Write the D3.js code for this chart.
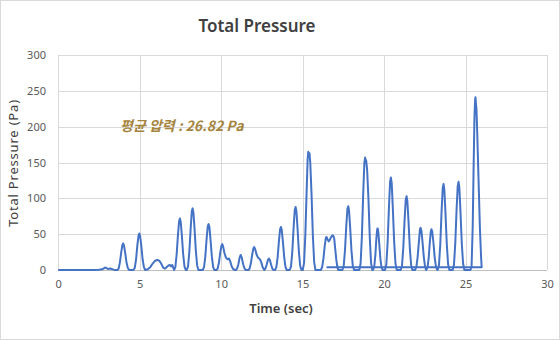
<!DOCTYPE html>
<html><head><meta charset="utf-8">
<script src="https://cdn.jsdelivr.net/npm/d3@7"></script>
<style>html,body{margin:0;padding:0;background:#fff}svg{display:block}</style>
</head><body>
<svg id="c" width="560" height="340"></svg>
<script>
const titleText = "Total Pressure";
const xTitle = "Time (sec)";
const yTitle = "Total Pressure (Pa)";
const note = "평균 압력 : 26.82 Pa";
const xTicks = [0, 5, 10, 15, 20, 25, 30];
const yTicks = [0, 50, 100, 150, 200, 250, 300];
const times = [
0,2.2,2.5,2.7,2.9,3.05,3.2,3.4,3.55,
3.63,3.71,3.79,3.87,3.94,3.99,4.04,4.11,4.19,4.27,4.35,
4.62,4.70,4.78,4.86,4.93,4.98,5.03,5.10,5.18,5.26,5.34,
5.5,5.65,5.8,5.95,6.08,6.2,6.32,6.45,6.55,6.65,6.75,6.85,6.92,7.0,7.05,
7.11,7.19,7.27,7.35,7.42,7.47,7.52,7.59,7.67,7.75,7.83,
7.89,7.97,8.05,8.13,8.20,8.25,8.30,8.37,8.45,8.53,8.61,
8.87,8.95,9.03,9.11,9.18,9.23,9.28,9.35,9.43,9.51,9.59,
9.71,9.79,9.87,9.95,10.02,10.07,10.12,10.2,10.3,10.4,10.48,10.56,10.65,10.75,10.85,
10.9,10.98,11.06,11.13,11.2,11.27,11.35,11.44,11.52,
11.67,11.75,11.83,11.91,11.98,12.03,12.09,12.17,12.27,12.38,12.46,12.55,12.65,
12.72,12.8,12.87,12.93,12.99,13.06,13.14,13.22,
13.31,13.39,13.47,13.55,13.62,13.67,13.72,13.79,13.87,13.95,14.03,
14.21,14.29,14.37,14.45,14.52,14.57,14.62,14.69,14.77,14.85,14.93,
15.01,15.09,15.17,15.25,15.31,15.35,15.39,15.42,15.47,15.55,15.63,15.71,15.79,
16.12,16.2,16.28,16.36,16.43,16.47,16.53,16.6,16.67,16.75,16.82,16.88,16.94,17.0,17.07,17.14,17.2,
17.44,17.52,17.6,17.68,17.75,17.8,17.85,17.92,18.0,18.08,18.16,
18.48,18.56,18.64,18.72,18.79,18.84,18.87,18.9,18.96,19.04,19.12,19.2,19.28,
19.32,19.4,19.47,19.53,19.58,19.61,19.65,19.71,19.78,19.85,19.92,
20.06,20.14,20.22,20.3,20.37,20.42,20.47,20.54,20.62,20.7,20.78,
21.02,21.1,21.18,21.26,21.33,21.38,21.43,21.5,21.58,21.66,21.74,
21.9,21.98,22.06,22.14,22.2,22.24,22.29,22.36,22.44,22.52,22.58,
22.6,22.67,22.74,22.81,22.87,22.91,22.96,23.03,23.11,23.19,23.27,
23.29,23.37,23.45,23.53,23.6,23.65,23.7,23.77,23.85,23.93,24.01,
24.21,24.29,24.37,24.45,24.52,24.57,24.62,24.69,24.77,24.85,24.93,
25.3,25.37,25.44,25.5,25.55,25.59,25.61,25.64,25.67,25.72,25.8,25.88,25.95,25.99,
16.47
];
const pressure = [
0,0,0.5,1,3.5,1.5,2,0.5,0,
0,2,11,25,35,37,34,24,11,3,0,
0,3,15,35,48,51,47,34,15,4,0,
1,4,9,13,14,13,9,3,2,4,6,7,5,7,4,
0,4,22,49,68,72,67,48,22,5,0,
0,5,26,58,82,86,80,57,26,6,0,
0,4,19,44,61,64,60,42,19,4,0,
0,2,11,25,34,36,33,24,17,15,16,12,5,1,0,
0,2,8,17,21,17,8,2,0,
0,2,10,22,30,32,29,22,17,15,11,4,0,
2,8,14,16,14,8,2,0,
0,4,18,41,57,60,56,40,18,4,0,
0,5,26,60,84,88,82,58,26,6,0,
0,10,50,112,155,165,160,163,150,105,48,11,0,
0,4,16,34,45,46,43,40,42,46,48,48,44,30,14,3,0,
0,5,27,61,85,89,83,59,27,6,0,
0,9,47,107,149,157,150,153,140,100,47,10,0,
0,5,22,45,57,58,52,35,14,3,0,
0,8,39,88,123,129,121,85,39,9,0,
0,6,31,70,98,103,96,68,31,7,0,
0,4,18,40,56,59,55,39,18,4,0,
0,4,17,39,54,57,53,38,17,4,0,
0,7,36,82,114,120,112,79,36,8,0,
0,7,37,84,117,123,115,81,37,9,0,
0,5,60,150,215,238,241,232,225,190,125,60,20,4,
4
];

const svg = d3.select("#c");
const W = 560, H = 340;
const m = {l: 58.2, r: 547, t: 55, b: 270};
const x = d3.scaleLinear().domain([0, 30]).range([m.l, m.r]);
const y = d3.scaleLinear().domain([0, 300]).range([m.b, m.t]);
const font = "'Noto Sans','Noto Sans CJK KR',sans-serif";

svg.append("rect").attr("x", 0.5).attr("y", 0.5).attr("width", W - 1).attr("height", H - 1)
  .attr("fill", "#fff").attr("stroke", "#d9d9d9");

// gridlines
svg.append("g").selectAll("line").data(yTicks.slice(1)).join("line")
  .attr("x1", m.l).attr("x2", m.r).attr("y1", d => Math.round(y(d)) + 0.5).attr("y2", d => Math.round(y(d)) + 0.5)
  .attr("stroke", "#d9d9d9");
svg.append("g").selectAll("line").data(xTicks).join("line")
  .attr("y1", m.t).attr("y2", m.b).attr("x1", d => Math.round(x(d)) + 0.5).attr("x2", d => Math.round(x(d)) + 0.5)
  .attr("stroke", "#d9d9d9");
svg.append("line").attr("x1", m.l).attr("x2", m.r).attr("y1", Math.round(y(0)) + 0.5).attr("y2", Math.round(y(0)) + 0.5)
  .attr("stroke", "#bfbfbf");

// axes labels
const yAxis = d3.axisLeft(y).tickValues(yTicks).tickSize(0).tickPadding(0);
const gy = svg.append("g").attr("transform", `translate(46,0)`).call(yAxis);
gy.select(".domain").remove();
gy.selectAll("text").attr("font-family", font).attr("font-size", 11).attr("fill", "#595959");
const xAxis = d3.axisBottom(x).tickValues(xTicks).tickSize(0).tickPadding(0);
const gx = svg.append("g").attr("transform", `translate(0,280)`).call(xAxis);
gx.select(".domain").remove();
gx.selectAll("text").attr("font-family", font).attr("font-size", 11).attr("fill", "#595959");

// line
const pts = times.map((t, i) => [t, pressure[i]]);
svg.append("path").datum(pts)
  .attr("d", d3.line().x(d => x(d[0])).y(d => y(d[1])))
  .attr("fill", "none").attr("stroke", "#4472c4").attr("stroke-width", 2).attr("stroke-linejoin", "round");

// titles
svg.append("text").attr("x", 257).attr("y", 32).attr("text-anchor", "middle")
  .attr("font-family", font).attr("font-size", 17).attr("font-weight", 600).attr("fill", "#404040").text(titleText);
svg.append("text").attr("x", 281).attr("y", 313).attr("text-anchor", "middle")
  .attr("font-family", font).attr("font-size", 13).attr("font-weight", 600).attr("fill", "#404040").text(xTitle);
svg.append("text").attr("transform", "translate(18,163) rotate(-90)").attr("text-anchor", "middle")
  .attr("font-family", font).attr("font-size", 13).attr("letter-spacing", 0.8).attr("fill", "#404040").text(yTitle);
svg.append("text").attr("x", 120).attr("y", 131)
  .attr("font-family", "'Noto Sans CJK KR',sans-serif").attr("font-size", 14).attr("font-weight", 700)
  .attr("font-style", "italic").attr("fill", "#a5843d").text(note);
</script>
</body></html>
